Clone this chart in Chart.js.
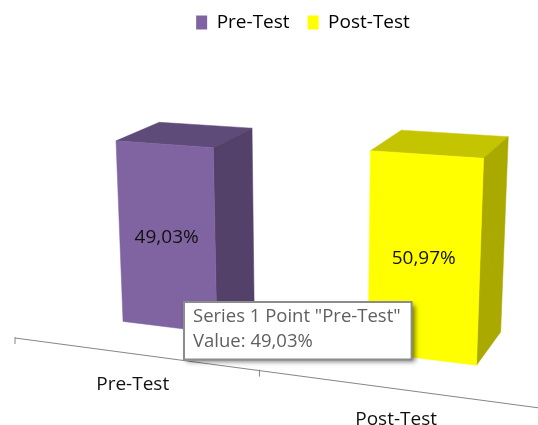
<!DOCTYPE html>
<html>
<head>
<meta charset="utf-8">
<script src="https://cdn.jsdelivr.net/npm/chart.js@4"></script>
<style>
  body { margin: 0; background: #fff; }
  canvas { display: block; }
</style>
</head>
<body>
<canvas id="grafico" width="538" height="425"></canvas>
<script>
var categorias = ['Pre-Test', 'Post-Test'];
var valores = [49.03, 50.97];
var coresFrente = ['#8064a2', '#ffff00'];
var coresTopo = ['#5f4b79', '#c4c400'];
var coresLado = ['#544169', '#a9a900'];

var fonte = '"Open Sans", sans-serif';

// projection of the 3D box: u along the axis, v up, z into the page
var origem = [15, 338];
var fugaX = [-3200, -91], fugaY = [312, 5170], fugaZ = [875, -185];
var escalaX = -0.1413, escalaY = -0.0452, escalaZ = 1;
var zFrente = 0.05, zFundo = 0.11;

function projeta(u, v, z) {
    var a = escalaX * u, b = escalaY * v, c = escalaZ * z;
    var d = 1 + a + b + c;
    return [
        (origem[0] + a * fugaX[0] + b * fugaY[0] + c * fugaZ[0]) / d,
        (origem[1] + a * fugaX[1] + b * fugaY[1] + c * fugaZ[1]) / d
    ];
}

function face(ctx, pontos, cor) {
    ctx.beginPath();
    pontos.forEach(function(p, i) {
        if (i == 0) ctx.moveTo(p[0], p[1]); else ctx.lineTo(p[0], p[1]);
    });
    ctx.closePath();
    ctx.fillStyle = cor;
    ctx.strokeStyle = cor;
    ctx.lineWidth = 0.5;
    ctx.fill();
    ctx.stroke();
}

function formata(v) {
    return v.toFixed(2).replace('.', ',') + '%';
}

// turns each bar of the chart into a box and draws the slanted axis
var barras3d = {
    id: 'barras3d',
    beforeDatasetsDraw: function(chart) {
        var ctx = chart.ctx, area = chart.chartArea;
        var larg = area.right - area.left, alt = area.bottom - area.top;
        var escala = chart.scales.x;

        // axis line and ticks
        ctx.save();
        ctx.strokeStyle = '#868686';
        ctx.lineWidth = 1;
        var ini = projeta(0, 0, 0), fim = projeta(1, 0, 0);
        ctx.beginPath();
        ctx.moveTo(ini[0], ini[1]);
        ctx.lineTo(fim[0], fim[1]);
        ctx.stroke();
        [0, 0.5, 1].forEach(function(u) {
            var p = projeta(u, 0, 0);
            ctx.beginPath();
            ctx.moveTo(p[0], p[1] - 1);
            ctx.lineTo(p[0], p[1] + 6);
            ctx.stroke();
        });
        // category labels under the axis
        ctx.fillStyle = '#111';
        ctx.font = '19px ' + fonte;
        ctx.textAlign = 'center';
        ctx.textBaseline = 'middle';
        categorias.forEach(function(nome, i) {
            var p = projeta((escala.getPixelForTick(i) - area.left) / larg, 0, 0);
            ctx.fillText(nome, p[0], p[1] + 31);
        });

        chart.getDatasetMeta(0).data.forEach(function(barra, i) {
            var u0 = (barra.x - barra.width / 2 - area.left) / larg;
            var u1 = (barra.x + barra.width / 2 - area.left) / larg;
            var v = (area.bottom - barra.y) / alt;

            face(ctx, [projeta(u0, v, zFrente), projeta(u1, v, zFrente), projeta(u1, v, zFundo), projeta(u0, v, zFundo)], coresTopo[i]);
            face(ctx, [projeta(u1, 0, zFrente), projeta(u1, v, zFrente), projeta(u1, v, zFundo), projeta(u1, 0, zFundo)], coresLado[i]);
            face(ctx, [projeta(u0, 0, zFrente), projeta(u1, 0, zFrente), projeta(u1, v, zFrente), projeta(u0, v, zFrente)], coresFrente[i]);

            var c = projeta((u0 + u1) / 2, v / 2, zFrente);
            ctx.fillStyle = '#111';
            ctx.font = '19px ' + fonte;
            ctx.fillText(formata(valores[i]), c[0], c[1]);
        });
        ctx.restore();
    },
    beforeTooltipDraw: function(chart, args) {
        var t = args.tooltip, ctx = chart.ctx;
        ctx.save();
        ctx.shadowColor = 'rgba(0,0,0,0.55)';
        ctx.shadowBlur = 5;
        ctx.shadowOffsetX = 3;
        ctx.shadowOffsetY = 3;
        ctx.fillStyle = '#fff';
        ctx.fillRect(t.x, t.y, t.width, t.height);
        ctx.restore();
    }
};

Chart.Tooltip.positioners.fixo = function() {
    return { x: 184, y: 302 };
};

var ctxGrafico = document.getElementById('grafico').getContext('2d');
var grafico = new Chart(ctxGrafico, {
    type: 'bar',
    data: {
        labels: categorias,
        datasets: [{
            label: 'Series 1',
            data: valores,
            backgroundColor: 'transparent',
            hoverBackgroundColor: 'transparent',
            borderWidth: 0,
            barPercentage: 0.4,
            categoryPercentage: 1
        }]
    },
    options: {
        responsive: false,
        animation: false,
        events: [],
        layout: {
            padding: { left: 68, top: -5 }
        },
        scales: {
            x: { display: false },
            y: { display: false, min: 0, max: 60 }
        },
        plugins: {
            legend: {
                position: 'top',
                labels: {
                    boxWidth: 11,
                    boxHeight: 14,
                    padding: 18,
                    color: '#111',
                    font: { family: fonte, size: 19 },
                    generateLabels: function() {
                        return categorias.map(function(nome, i) {
                            return { text: nome, fillStyle: coresFrente[i], strokeStyle: coresFrente[i], lineWidth: 0, index: i };
                        });
                    }
                }
            },
            tooltip: {
                position: 'fixo',
                xAlign: 'left',
                yAlign: 'top',
                caretSize: 0,
                caretPadding: 0,
                cornerRadius: 0,
                displayColors: false,
                backgroundColor: '#fff',
                borderColor: '#8c8c8c',
                borderWidth: 2,
                titleColor: '#5f5f5f',
                bodyColor: '#5f5f5f',
                titleFont: { family: fonte, size: 18.5, weight: 'normal' },
                bodyFont: { family: fonte, size: 18.5 },
                titleMarginBottom: 2,
                padding: { left: 9, right: 11, top: 4, bottom: 7 },
                callbacks: {
                    title: function(itens) {
                        return 'Series 1 Point "' + categorias[itens[0].dataIndex] + '"';
                    },
                    label: function(item) {
                        return 'Value: ' + formata(valores[item.dataIndex]);
                    }
                }
            }
        }
    },
    plugins: [barras3d]
});

grafico.tooltip.setActiveElements([{ datasetIndex: 0, index: 0 }], { x: 0, y: 0 });
grafico.render();
</script>
</body>
</html>
